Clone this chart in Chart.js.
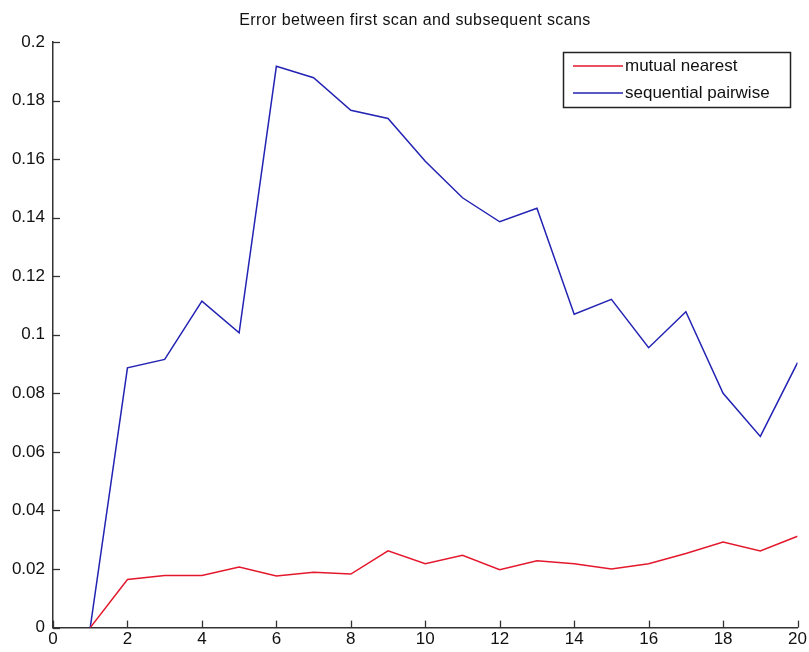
<!DOCTYPE html>
<html>
<head>
<meta charset="utf-8">
<script src="https://cdn.jsdelivr.net/npm/chart.js@4/dist/chart.umd.min.js"></script>
<style>
html,body{margin:0;padding:0;background:#fff}
#c{display:block}
</style>
</head>
<body>
<canvas id="c" width="809" height="652"></canvas>
<script>
// scan index 1..20
let scans=[1,2,3,4,5,6,7,8,9,10,11,12,13,14,15,16,17,18,19,20]

let mutualNearest=[0,0.0164,0.0178,0.0178,0.0207,0.0176,0.0189,0.0183,0.0262,0.0218,
0.0247,0.0198,0.0228,0.0218,0.0200,0.0218,0.0253,0.0292,0.0262,0.0312]

let sequentialPairwise=[0,0.0887,0.0916,0.1115,0.1007,0.1917,0.1878,0.1767,0.1739,0.1593,
0.1468,0.1386,0.1432,0.1070,0.1121,0.0956,0.1079,0.0800,0.0653,0.0905]

let seriesNames=["mutual nearest","sequential pairwise"]
let titleText="Error between first scan and subsequent scans"

const FONT="'Liberation Sans',Arial,sans-serif"

function pts(vals){
return scans.map((x,i)=>({x:x,y:vals[i]}))
}

/* inward tick marks, matlab style */
const inTicks={
id:"inTicks",
afterDraw(chart){
const ctx=chart.ctx
const a=chart.chartArea
const xs=chart.scales.x
const ys=chart.scales.y
ctx.save()
ctx.strokeStyle="#333"
ctx.lineWidth=1.3
xs.ticks.forEach(t=>{
const px=Math.round(xs.getPixelForValue(t.value))+0.5
ctx.beginPath()
ctx.moveTo(px,a.bottom)
ctx.lineTo(px,a.bottom-7)
ctx.stroke()
})
ys.ticks.forEach(t=>{
const py=Math.round(ys.getPixelForValue(t.value))+0.5
ctx.beginPath()
ctx.moveTo(a.left,py)
ctx.lineTo(a.left+7,py)
ctx.stroke()
})
ctx.restore()
}
}

/* title, centred a bit right like the original */
const topTitle={
id:"topTitle",
afterDraw(chart){
const ctx=chart.ctx
ctx.save()
ctx.font="16px "+FONT
ctx.letterSpacing="0.4px"
ctx.fillStyle="#111"
ctx.textAlign="center"
ctx.textBaseline="middle"
ctx.fillText(titleText,415,21)
ctx.restore()
}
}

/* boxed legend in the top right corner */
const boxLegend={
id:"boxLegend",
afterDraw(chart){
const ctx=chart.ctx
const left=563,top=52,w=227,h=55
ctx.save()
ctx.fillStyle="#fff"
ctx.fillRect(left,top,w,h)
ctx.strokeStyle="#222"
ctx.lineWidth=1.5
ctx.strokeRect(left+0.5,top+0.5,w,h)
ctx.font="17px "+FONT
ctx.textBaseline="middle"
chart.data.datasets.forEach((ds,i)=>{
const y=top+14+i*27
ctx.strokeStyle=ds.borderColor
ctx.lineWidth=1.5
ctx.beginPath()
ctx.moveTo(left+10,y)
ctx.lineTo(left+60,y)
ctx.stroke()
ctx.fillStyle="#111"
ctx.fillText(ds.label,left+62,y)
})
ctx.restore()
}
}

new Chart(document.getElementById("c"),{

type:"line",

data:{
datasets:[{
label:seriesNames[0],
data:pts(mutualNearest),
borderColor:"#e4182c",
borderWidth:1.5,
pointRadius:0,
tension:0
},{
label:seriesNames[1],
data:pts(sequentialPairwise),
borderColor:"#2323b4",
borderWidth:1.5,
pointRadius:0,
tension:0
}]
},

options:{
responsive:false,
animation:false,
layout:{padding:{left:0,right:9,top:42,bottom:0}},
plugins:{
legend:{display:false},
tooltip:{enabled:false},
title:{display:false}
},
scales:{
x:{
type:"linear",
min:0,max:20,
ticks:{stepSize:2,color:"#111",font:{family:FONT,size:17},padding:2,maxRotation:0},
grid:{display:false,drawTicks:false},
border:{display:true,color:"#333",width:1.5}
},
y:{
min:0,max:0.2,
ticks:{stepSize:0.02,color:"#111",font:{family:FONT,size:17},padding:8,
callback:v=>String(Math.round(v*100)/100)},
grid:{display:false,drawTicks:false},
border:{display:true,color:"#333",width:1.5},
afterFit(s){s.width=53}
}
}
},

plugins:[inTicks,topTitle,boxLegend]

})
</script>
</body>
</html>
